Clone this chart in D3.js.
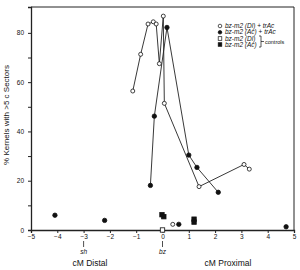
<!DOCTYPE html>
<html>
<head>
<meta charset="utf-8">
<script src="https://cdn.jsdelivr.net/npm/d3@7"></script>
<style>
  body { margin: 0; background: #fff; }
  svg { display: block; font-family: "Liberation Sans", Arial, sans-serif; }
  text { fill: #111; }
</style>
</head>
<body>
<div class="wrapper"></div>
<script>
// bz-m2 (Dl) + trAc, open circles joined by a line
let dlX = [-1.13, -0.83, -0.55, -0.35, -0.24, -0.12, 0.03, 0.07, 1.39, 3.1, 3.3];
let dlY = [56.4, 71.3, 83.6, 84.5, 83.6, 67.5, 86.8, 51.4, 17.6, 26.6, 24.7];

// bz-m2 (Ac) + trAc, filled circles joined by a line
let acX = [-0.46, -0.31, 0.17, 1.0, 1.31, 2.12];
let acY = [18.1, 46.2, 82.2, 30.4, 25.4, 15.3];

// lone points near the base line
let acLooseX = [-4.09, -2.2, 0.62, 4.7];
let acLooseY = [6.0, 3.9, 2.3, 1.3];
let dlLooseX = [0.39];
let dlLooseY = [2.3];

// controls
let ctrlDlX = [0];
let ctrlDlY = [0];
let ctrlAcX = [-0.02, 0.05, 1.2, 1.2];
let ctrlAcY = [6.2, 5.4, 4.4, 3.2];

let xTicks = [-5, -4, -3, -2, -1, 0, 1, 2, 3, 4, 5];
let yTicks = [0, 20, 40, 60, 80];
let yMinor = [10, 30, 50, 70];

let legendLabels = [
    ["bz-m2 (Dl)", " + ", "trAc"],
    ["bz-m2 (Ac)", " + ", "trAc"],
    ["bz-m2 (Dl)", "", ""],
    ["bz-m2 (Ac)", "", ""]
];

let chartWidth = 300, chartHeight = 270;
let plotLeft = 31, plotRight = 294, plotTop = 7, plotBottom = 230;

let svg = d3.select(".wrapper")
    .append("svg")
    .attr("width", chartWidth)
    .attr("height", chartHeight);

let x = d3.scaleLinear().domain([-5, 5]).range([plotLeft, plotRight]);
let y = d3.scaleLinear().domain([0, 90.5]).range([plotBottom, plotTop]);

// frame
svg.append("path")
    .attr("d", "M" + plotLeft + "," + plotTop + "H" + plotRight + "V" + plotBottom)
    .attr("fill", "none")
    .attr("stroke", "#222")
    .attr("stroke-width", 1);

svg.append("g")
    .attr("transform", "translate(0," + plotBottom + ")")
    .call(d3.axisBottom(x).tickValues(xTicks).tickSize(3).tickPadding(1)
        .tickFormat(d3.format("d")));

svg.append("g")
    .attr("transform", "translate(" + plotLeft + ",0)")
    .call(d3.axisLeft(y).tickValues(yTicks).tickSize(3).tickPadding(4));

svg.append("g")
    .attr("transform", "translate(" + plotLeft + ",0)")
    .call(d3.axisLeft(y).tickValues(yMinor).tickSize(3).tickFormat(""))
    .select(".domain").remove();

svg.selectAll(".tick text")
    .attr("font-size", 6.5)
    .attr("font-family", "Liberation Sans, Arial, sans-serif")
    .attr("fill", "#111");
svg.selectAll(".domain").attr("stroke", "#222").attr("stroke-width", 1.3);
svg.selectAll(".tick line").attr("stroke", "#222");

// locus marks under the x axis
let loci = [[-3, "sh"], [0, "bz"]];
loci.forEach(function (l) {
    svg.append("line")
        .attr("x1", x(l[0])).attr("x2", x(l[0]))
        .attr("y1", 241).attr("y2", 247)
        .attr("stroke", "#222").attr("stroke-width", 0.8);
    svg.append("text")
        .attr("x", x(l[0])).attr("y", 254)
        .attr("text-anchor", "middle")
        .attr("font-size", 6.5)
        .attr("font-style", "italic")
        .text(l[1]);
});

svg.append("text")
    .attr("x", 90).attr("y", 266)
    .attr("text-anchor", "middle")
    .attr("font-size", 8.5)
    .text("cM Distal");

svg.append("text")
    .attr("x", 228).attr("y", 266)
    .attr("text-anchor", "middle")
    .attr("font-size", 8.5)
    .text("cM Proximal");

svg.append("text")
    .attr("transform", "translate(9,115) rotate(-90)")
    .attr("text-anchor", "middle")
    .attr("font-size", 8)
    .text("% Kernels with >5 c Sectors");

let line = d3.line()
    .x(function (d) {return x(d[0])})
    .y(function (d) {return y(d[1])});

let dlData = d3.zip(dlX, dlY);
let acData = d3.zip(acX, acY);

svg.append("path").datum(dlData)
    .attr("d", line).attr("fill", "none")
    .attr("stroke", "#222").attr("stroke-width", 0.9);
svg.append("path").datum(acData)
    .attr("d", line).attr("fill", "none")
    .attr("stroke", "#222").attr("stroke-width", 0.9);

function circles(data, filled) {
    svg.selectAll(null)
        .data(data)
        .enter()
        .append("circle")
        .attr("cx", function (d) {return x(d[0])})
        .attr("cy", function (d) {return y(d[1])})
        .attr("r", filled ? 2.2 : 2)
        .attr("fill", filled ? "#111" : "#fff")
        .attr("stroke", "#111")
        .attr("stroke-width", 0.8);
}

function squares(data, filled) {
    svg.selectAll(null)
        .data(data)
        .enter()
        .append("rect")
        .attr("x", function (d) {return x(d[0]) - 2.2})
        .attr("y", function (d) {return y(d[1]) - 2.2})
        .attr("width", 4.4)
        .attr("height", 4.4)
        .attr("fill", filled ? "#111" : "#fff")
        .attr("stroke", "#111")
        .attr("stroke-width", 0.8);
}

circles(dlData, false);
circles(acData, true);
circles(d3.zip(acLooseX, acLooseY), true);
circles(d3.zip(dlLooseX, dlLooseY), false);
squares(d3.zip(ctrlAcX, ctrlAcY), true);
squares(d3.zip(ctrlDlX, ctrlDlY), false);

// legend
let legend = svg.append("g");
let rowY = [28, 34.3, 40.5, 46.5];
legendLabels.forEach(function (lab, i) {
    let cy = rowY[i];
    if (i < 2) {
        legend.append("circle")
            .attr("cx", 220).attr("cy", cy - 2).attr("r", 1.8)
            .attr("fill", i === 1 ? "#111" : "#fff")
            .attr("stroke", "#111").attr("stroke-width", 0.7);
    } else {
        legend.append("rect")
            .attr("x", 218.2).attr("y", cy - 3.8)
            .attr("width", 3.6).attr("height", 3.6)
            .attr("fill", i === 3 ? "#111" : "#fff")
            .attr("stroke", "#111").attr("stroke-width", 0.7);
    }
    let t = legend.append("text")
        .attr("x", 225).attr("y", cy)
        .attr("font-size", 6.5);
    t.append("tspan").attr("font-style", "italic").text(lab[0]);
    t.append("tspan").text(lab[1]);
    t.append("tspan").attr("font-style", "italic").text(lab[2]);
});

// bracket for the controls
legend.append("path")
    .attr("d", "M259,36H261V47H259M261,41.5H264")
    .attr("fill", "none")
    .attr("stroke", "#111")
    .attr("stroke-width", 0.7);
legend.append("text")
    .attr("x", 265).attr("y", 43.5)
    .attr("font-size", 5.5)
    .text("controls");
</script>
</body>
</html>
